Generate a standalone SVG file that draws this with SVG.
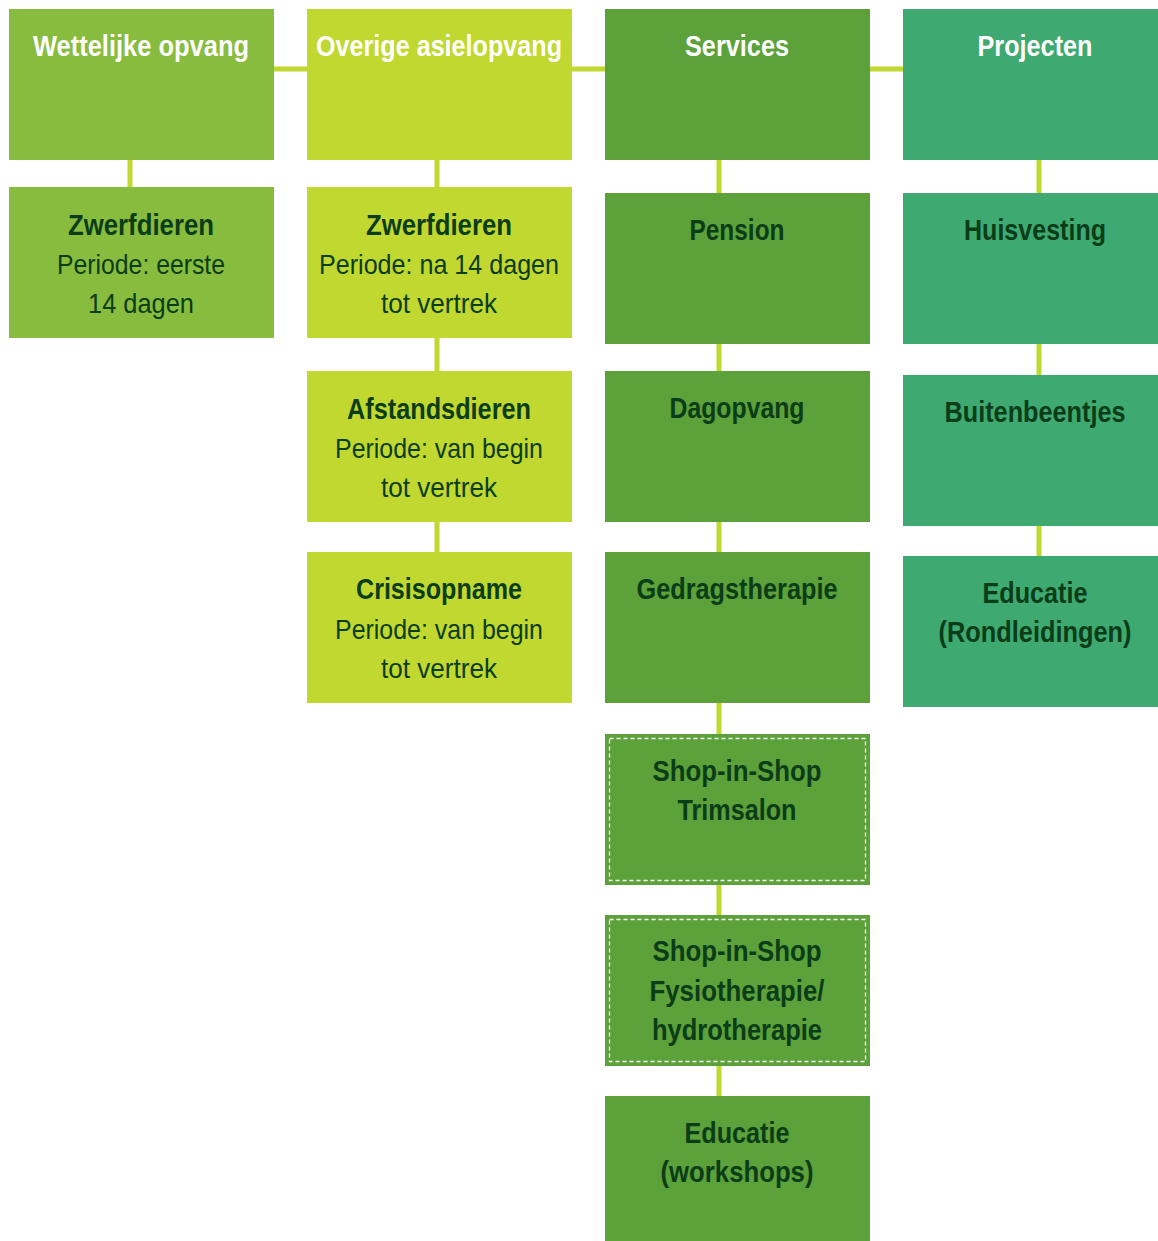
<svg xmlns="http://www.w3.org/2000/svg" width="1158" height="1241" viewBox="0 0 1158 1241">
<style>
.c1{fill:#87bc3e}.c2{fill:#c1d830}.c3{fill:#5ca139}.c4{fill:#3ea970}
.ln{stroke:#c1d830;stroke-width:5;fill:none}
.dash{fill:none;stroke:#ffffff;stroke-width:1.3;stroke-dasharray:4 3}
text{font-family:"Liberation Sans Narrow","Liberation Sans",Arial,sans-serif;text-anchor:middle;font-size:28px}
.h{fill:#ffffff;font-weight:bold;font-size:29px}
.b{fill:#0b3d18;font-weight:bold;font-size:29px}
.r{fill:#0b3d18}
</style>
<rect width="1158" height="1241" fill="#ffffff"/>
<g id="connectors">
<line class="ln" x1="274" y1="69" x2="307" y2="69"/>
<line class="ln" x1="572" y1="69" x2="605" y2="69"/>
<line class="ln" x1="870" y1="69" x2="903" y2="69"/>
<line class="ln" x1="130" y1="160" x2="130" y2="187"/>
<line class="ln" x1="437" y1="160" x2="437" y2="552"/>
<line class="ln" x1="719" y1="160" x2="719" y2="1096"/>
<line class="ln" x1="1039" y1="160" x2="1039" y2="556"/>
</g>
<g id="n-wettelijke"><rect class="c1" x="9" y="9" width="265" height="151"/><text class="h" x="141" y="56" textLength="216" lengthAdjust="spacingAndGlyphs">Wettelijke opvang</text></g>
<g id="n-overige"><rect class="c2" x="307" y="9" width="265" height="151"/><text class="h" x="439" y="56" textLength="246" lengthAdjust="spacingAndGlyphs">Overige asielopvang</text></g>
<g id="n-services"><rect class="c3" x="605" y="9" width="265" height="151"/><text class="h" x="737" y="56" textLength="104" lengthAdjust="spacingAndGlyphs">Services</text></g>
<g id="n-projecten"><rect class="c4" x="903" y="9" width="255" height="151"/><text class="h" x="1035" y="56" textLength="115" lengthAdjust="spacingAndGlyphs">Projecten</text></g>

<g id="n-zwerf1"><rect class="c1" x="9" y="187" width="265" height="151"/>
<text class="b" x="141" y="235" textLength="146" lengthAdjust="spacingAndGlyphs">Zwerfdieren</text>
<text class="r" x="141" y="274" textLength="168" lengthAdjust="spacingAndGlyphs">Periode: eerste</text>
<text class="r" x="141" y="313" textLength="106" lengthAdjust="spacingAndGlyphs">14 dagen</text></g>

<g id="n-zwerf2"><rect class="c2" x="307" y="187" width="265" height="151"/>
<text class="b" x="439" y="235" textLength="146" lengthAdjust="spacingAndGlyphs">Zwerfdieren</text>
<text class="r" x="439" y="274" textLength="240" lengthAdjust="spacingAndGlyphs">Periode: na 14 dagen</text>
<text class="r" x="439" y="313" textLength="116" lengthAdjust="spacingAndGlyphs">tot vertrek</text></g>

<g id="n-afstand"><rect class="c2" x="307" y="371" width="265" height="151"/>
<text class="b" x="439" y="419" textLength="184" lengthAdjust="spacingAndGlyphs">Afstandsdieren</text>
<text class="r" x="439" y="458" textLength="208" lengthAdjust="spacingAndGlyphs">Periode: van begin</text>
<text class="r" x="439" y="497" textLength="116" lengthAdjust="spacingAndGlyphs">tot vertrek</text></g>

<g id="n-crisis"><rect class="c2" x="307" y="552" width="265" height="151"/>
<text class="b" x="439" y="599" textLength="166" lengthAdjust="spacingAndGlyphs">Crisisopname</text>
<text class="r" x="439" y="639" textLength="208" lengthAdjust="spacingAndGlyphs">Periode: van begin</text>
<text class="r" x="439" y="678" textLength="116" lengthAdjust="spacingAndGlyphs">tot vertrek</text></g>

<g id="n-pension"><rect class="c3" x="605" y="193" width="265" height="151"/>
<text class="b" x="737" y="240" textLength="95" lengthAdjust="spacingAndGlyphs">Pension</text></g>
<g id="n-dagopvang"><rect class="c3" x="605" y="371" width="265" height="151"/>
<text class="b" x="737" y="418" textLength="135" lengthAdjust="spacingAndGlyphs">Dagopvang</text></g>
<g id="n-gedrag"><rect class="c3" x="605" y="552" width="265" height="151"/>
<text class="b" x="737" y="599" textLength="201" lengthAdjust="spacingAndGlyphs">Gedragstherapie</text></g>
<g id="n-trimsalon"><rect class="c3" x="605" y="734" width="265" height="151"/>
<rect class="dash" x="609.5" y="738.5" width="256" height="142"/>
<text class="b" x="737" y="781" textLength="169" lengthAdjust="spacingAndGlyphs">Shop-in-Shop</text>
<text class="b" x="737" y="820" textLength="119" lengthAdjust="spacingAndGlyphs">Trimsalon</text></g>
<g id="n-fysio"><rect class="c3" x="605" y="915" width="265" height="151"/>
<rect class="dash" x="609.5" y="919.5" width="256" height="142"/>
<text class="b" x="737" y="961" textLength="169" lengthAdjust="spacingAndGlyphs">Shop-in-Shop</text>
<text class="b" x="737" y="1001" textLength="175" lengthAdjust="spacingAndGlyphs">Fysiotherapie/</text>
<text class="b" x="737" y="1040" textLength="170" lengthAdjust="spacingAndGlyphs">hydrotherapie</text></g>
<g id="n-educatie1"><rect class="c3" x="605" y="1096" width="265" height="145"/>
<text class="b" x="737" y="1143" textLength="105" lengthAdjust="spacingAndGlyphs">Educatie</text>
<text class="b" x="737" y="1182" textLength="153" lengthAdjust="spacingAndGlyphs">(workshops)</text></g>

<g id="n-huisvesting"><rect class="c4" x="903" y="193" width="255" height="151"/>
<text class="b" x="1035" y="240" textLength="142" lengthAdjust="spacingAndGlyphs">Huisvesting</text></g>
<g id="n-buiten"><rect class="c4" x="903" y="375" width="255" height="151"/>
<text class="b" x="1035" y="422" textLength="181" lengthAdjust="spacingAndGlyphs">Buitenbeentjes</text></g>
<g id="n-educatie2"><rect class="c4" x="903" y="556" width="255" height="151"/>
<text class="b" x="1035" y="603" textLength="105" lengthAdjust="spacingAndGlyphs">Educatie</text>
<text class="b" x="1035" y="642" textLength="193" lengthAdjust="spacingAndGlyphs">(Rondleidingen)</text></g>
</svg>
